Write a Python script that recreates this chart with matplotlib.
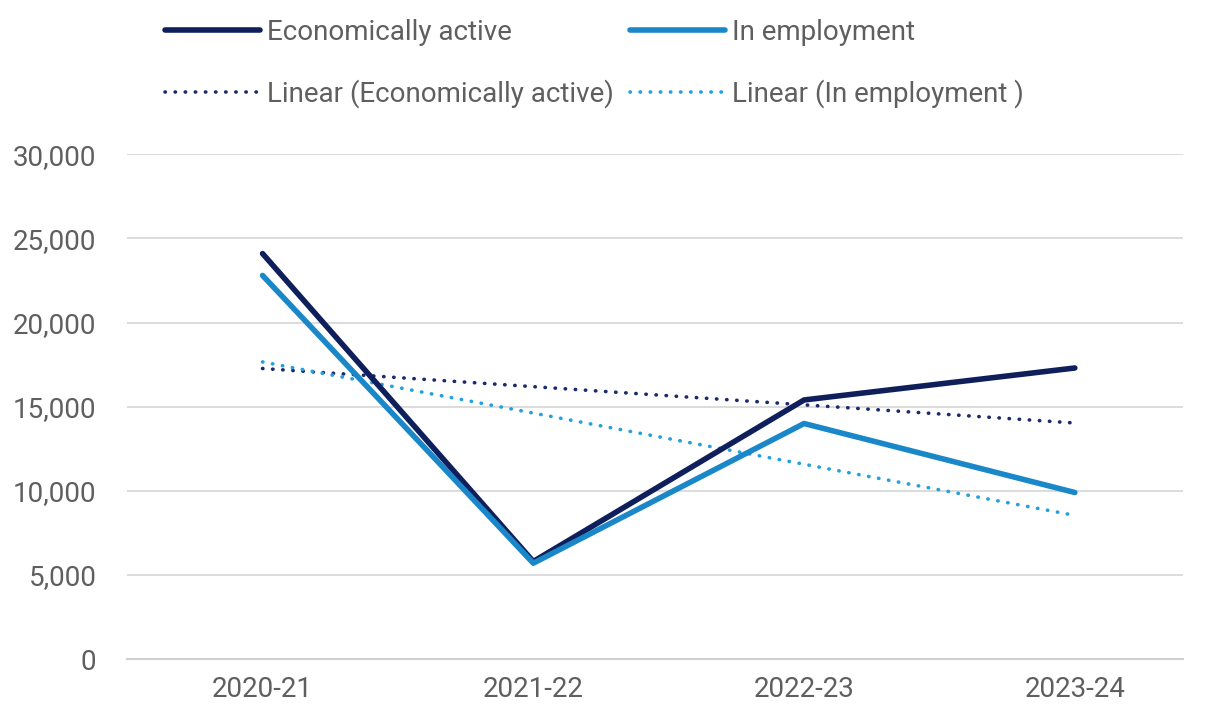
import matplotlib
matplotlib.use("Agg")
import matplotlib.pyplot as plt
import numpy as np
from matplotlib.ticker import FuncFormatter

categories = ["2020-21", "2021-22", "2022-23", "2023-24"]
econ_active = [24100, 5800, 15400, 17300]
in_employment = [22800, 5700, 14000, 9900]
yticks = [0, 5000, 10000, 15000, 20000, 25000, 30000]

navy = "#0e1f5b"
blue = "#1a87c9"
grey_text = "#5f5f5f"

plt.rcParams['font.family'] = ['Roboto', 'DejaVu Sans']

fig = plt.figure(figsize=(12.11, 7.11), dpi=100)
ax = fig.add_axes([0.105, 0.073, 0.872, 0.71])

x = np.arange(len(categories))

def trend(vals):
    m, b = np.polyfit(x, vals, 1)
    return m * x + b

l_ea, = ax.plot(x, econ_active, color=navy, lw=4.0, solid_capstyle='round', solid_joinstyle='round', zorder=3)
l_ie, = ax.plot(x, in_employment, color=blue, lw=4.0, solid_capstyle='round', solid_joinstyle='round', zorder=4)
t_ea, = ax.plot(x, trend(econ_active), color="#1a2a6c", lw=2.6, linestyle=(0, (0.1, 2.7)), dash_capstyle='round', zorder=2)
t_ie, = ax.plot(x, trend(in_employment), color="#22a0e0", lw=2.6, linestyle=(0, (0.1, 2.7)), dash_capstyle='round', zorder=2)

ax.set_xlim(-0.5, 3.40)
ax.set_ylim(0, 30000)
ax.set_yticks(yticks)
ax.yaxis.set_major_formatter(FuncFormatter(lambda v, p: f"{int(v):,}"))
ax.set_xticks(x)
ax.set_xticklabels(categories)
ax.grid(axis='y', color="#d9d9d9", lw=1.3)
ax.set_axisbelow(True)
for s in ["top", "right", "left"]:
    ax.spines[s].set_visible(False)
ax.spines["bottom"].set_color("#d0d0d0")
ax.spines["bottom"].set_linewidth(1.5)
ax.tick_params(axis='both', length=0, labelsize=20, colors=grey_text)
ax.tick_params(axis='y', pad=22)
ax.tick_params(axis='x', pad=12)

fig.legend([l_ea, t_ea, l_ie, t_ie],
           ["Economically active", "Linear (Economically active)", "In employment", "Linear (In employment )"],
           loc='upper left', bbox_to_anchor=(0.116, 1.009), ncol=2, frameon=False,
           fontsize=20, labelcolor=grey_text, handlelength=3.4, handletextpad=0.25,
           columnspacing=0.6, labelspacing=1.21)

fig.savefig("out.png", dpi=100)
